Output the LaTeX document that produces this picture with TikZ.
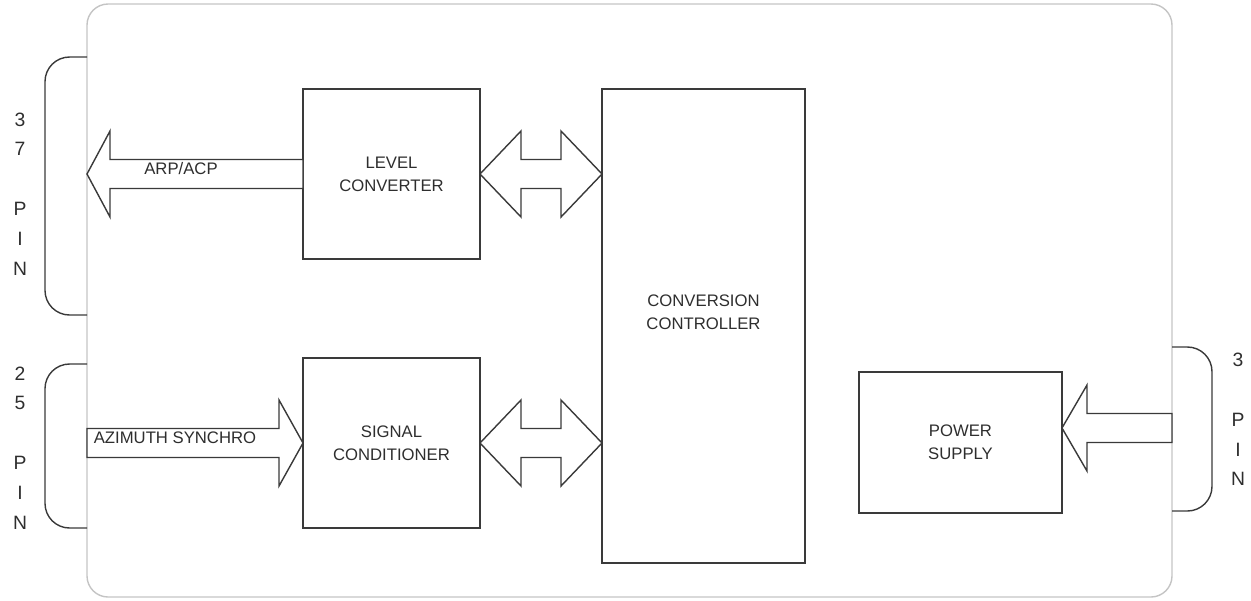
\documentclass[tikz,border=0pt]{standalone}
\usepackage{fontspec}
\setmainfont{Liberation Sans}
\usepackage{xcolor,tikz}
\usetikzlibrary{positioning,calc}
\definecolor{edge}{HTML}{3A3A3A}
\definecolor{frame}{HTML}{C4C4C4}
\definecolor{ink}{HTML}{2E2E2E}

\begin{document}
\begin{tikzpicture}[x=0.02cm,y=-0.02cm,box/.style={draw=edge,line width=0.8pt,outer sep=0pt,align=center,text=ink,font=\fontsize{9.5}{13}\selectfont},blk/.style={draw=edge,line width=0.8pt,fill=white,line join=miter},pin/.style={align=center,text=ink,font=\fontsize{11}{17}\selectfont},lbl/.style={text=ink,inner sep=0pt,font=\fontsize{9.5}{11}\selectfont},brk/.style={draw=edge,line width=0.8pt,rounded corners=14pt}]
\useasboundingbox (0,0) rectangle (1251,600);
\draw[frame,line width=0.8pt,rounded corners=12pt] (87,4) rectangle (1172,597);
\node[box,minimum width=3.54cm,minimum height=3.4cm] (lvl) at (391.5,174) {LEVEL\\CONVERTER};
\node[box,minimum width=3.54cm,minimum height=3.4cm] (sig) at (391.5,443) {SIGNAL\\CONDITIONER};
\node[box,minimum width=4.06cm,minimum height=9.48cm] (ctrl) at (703.5,326) {};
\node[lbl,align=center,font=\fontsize{9.5}{13}\selectfont] (ctrltxt) at (703.5,312) {CONVERSION\\CONTROLLER};
\node[box,minimum width=4.06cm,minimum height=2.82cm] (pwr) at (960.5,442.5) {POWER\\SUPPLY};
% connector pins
\draw[brk] (87,57) -- (45,57) -- (45,315) -- (87,315);
\draw[brk] (87,364) -- (45,364) -- (45,528) -- (87,528);
\draw[brk] (1172,347) -- (1212,347) -- (1212,511) -- (1172,511);
\node[pin] (pin37) at (20,194) {3\\7\\ \\P\\I\\N};
\node[pin] (pin25) at (20,448) {2\\5\\ \\P\\I\\N};
\node[pin] (pin3) at (1238,419.5) {3\\ \\P\\I\\N};
\coordinate (arpout) at (87,174);
\coordinate (azin) at (87,443);
\coordinate (pwrin) at (1172,428);
% block arrows
\draw[blk] (lvl.west) ++(0,-14.5) -- ++(-193,0) -- ++(0,-28.5) -- (arpout) -- ++(23,43) -- ++(0,-28.5) -- ++(193,0) -- cycle;
\draw[blk] (azin) ++(0,-14.5) -- ++(192,0) -- ++(0,-28.5) -- (sig.west) -- ++(-24,43) -- ++(0,-28.5) -- ++(-192,0) -- cycle;
\draw[blk] (pwrin) ++(0,-14.5) -- ++(-85,0) -- ++(0,-28.5) -- (pwr.east |- pwrin) -- ++(25,43) -- ++(0,-28.5) -- ++(85,0) -- cycle;
\draw[blk] (lvl.east) -- ++(41,-43) -- ++(0,28.5) -- ++(40,0) -- ++(0,-28.5) -- (ctrl.west |- lvl.east) -- ++(-41,43) -- ++(0,-28.5) -- ++(-40,0) -- ++(0,28.5) -- cycle;
\draw[blk] (sig.east) -- ++(41,-43) -- ++(0,28.5) -- ++(40,0) -- ++(0,-28.5) -- (ctrl.west |- sig.east) -- ++(-41,43) -- ++(0,-28.5) -- ++(-40,0) -- ++(0,28.5) -- cycle;
\node[lbl] (arplbl) at (181,169) {ARP/ACP};
\node[lbl] (azlbl) at (175,438) {AZIMUTH SYNCHRO};
\end{tikzpicture}
\end{document}
